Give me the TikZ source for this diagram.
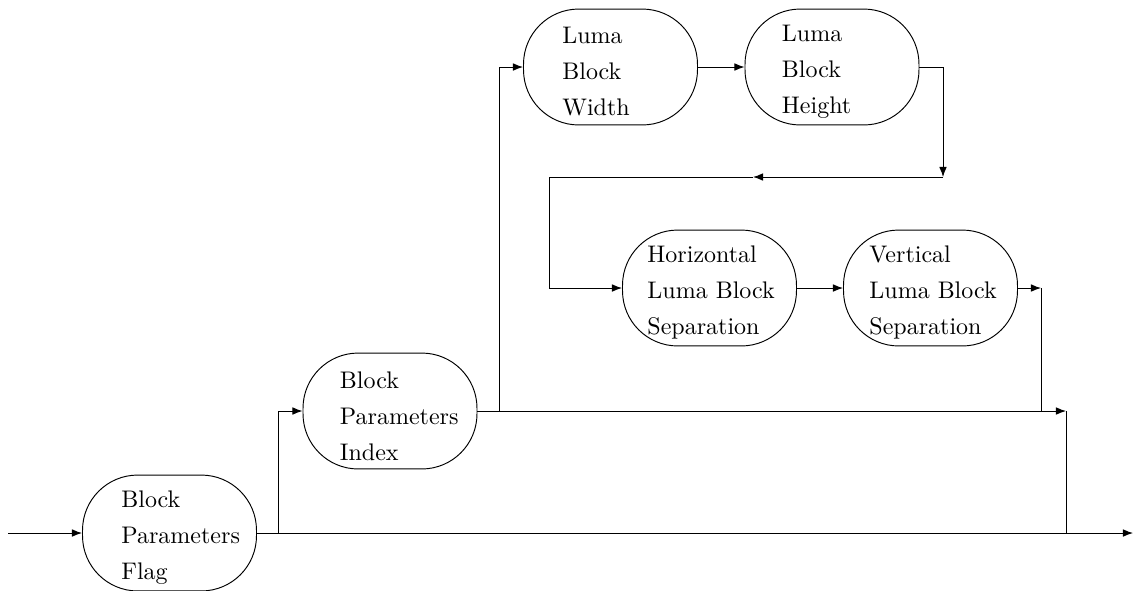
\documentclass[tikz,border=0pt]{standalone}
\usetikzlibrary{arrows.meta}
\begin{document}
\begin{tikzpicture}[x=0.4167pt,y=-0.4167pt,
  line width=0.4pt,
  blk/.style={draw, rounded corners=23pt, minimum width=72.5pt, minimum height=48.3pt, inner sep=0pt},
  lbl/.style={anchor=west, inner sep=0pt, align=left, yshift=-2pt,
              font={\fontsize{10}{15}\selectfont}},
  arr/.style={-{Latex[length=4.2pt,width=3.2pt]}}]
\useasboundingbox (0,0) rectangle (1133,590);

% syntax elements
\node[blk] (flag)   at (169.5,533) {};
\node[blk] (index)  at (390,411)   {};
\node[blk] (width)  at (610.5,67)  {};
\node[blk] (height) at (832,67)    {};
\node[blk] (horiz)  at (709.5,288) {};
\node[blk] (vert)   at (930.5,288) {};

% element names
\node[lbl] (tflag)   at ([xshift=16.2pt]flag.west)   {Block\\Parameters\\Flag};
\node[lbl] (tindex)  at ([xshift=15.4pt]index.west)  {Block\\Parameters\\Index};
\node[lbl] (twidth)  at ([xshift=16.2pt]width.west)  {Luma\\Block\\Width};
\node[lbl] (theight) at ([xshift=15.4pt]height.west) {Luma\\Block\\Height};
\node[lbl] (thoriz)  at ([xshift=10.4pt]horiz.west)  {Horizontal\\Luma Block\\Separation};
\node[lbl] (tvert)   at ([xshift=10.8pt]vert.west)   {Vertical\\Luma Block\\Separation};

% routing points
\coordinate (start) at (8,533);
\coordinate (stop)  at (1133,533);
\coordinate (b1)    at (278,533);
\coordinate (b2)    at (499,411);
\coordinate (j1top) at (1066,411);
\coordinate (j1)    at (1066,533);
\coordinate (c1)    at (943,177);
\coordinate (cm)    at (753,177);
\coordinate (c2)    at (549,177);
\coordinate (d1)    at (1041,288);
\coordinate (d2)    at (1041,411);

% main line
\draw[arr] (start) -- (flag.west);
\draw[arr] (flag.east) -- (stop);

% optional block parameters index
\draw[arr] (b1) |- (index.west);
\draw[arr] (index.east) -- (j1top);
\draw (j1top) -- (j1);

% luma block size
\draw[arr] (b2) |- (width.west);
\draw[arr] (width.east) -- (height.west);
\draw[arr] (height.east) -| (c1);
\draw (cm) -- (c2);
\draw[arr] (c1) -- (cm);

% luma block separation
\draw[arr] (c2) |- (horiz.west);
\draw[arr] (horiz.east) -- (vert.west);
\draw[arr] (vert.east) -- (d1);
\draw (d1) -- (d2);
\end{tikzpicture}
\end{document}
